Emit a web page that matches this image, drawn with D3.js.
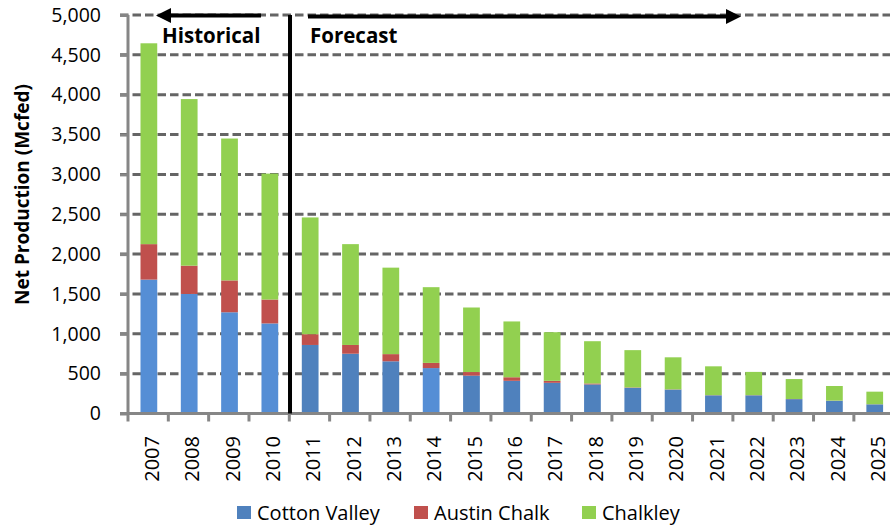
<!DOCTYPE html>
<html>
<head>
<meta charset="utf-8">
<script src="https://cdn.jsdelivr.net/npm/d3@7"></script>
<style>
  html, body { margin: 0; padding: 0; background: #fff; }
  svg { display: block; }
  text { font-family: "Open Sans", "Noto Sans", sans-serif; }
</style>
</head>
<body>
<script>
const years = ["2007","2008","2009","2010","2011","2012","2013","2014","2015","2016","2017","2018","2019","2020","2021","2022","2023","2024","2025"];
const cottonValley = [1680,1500,1270,1130,860,750,655,570,475,410,385,365,322,300,228,228,180,160,115];
const austinChalk  = [445,355,400,300,135,110,90,65,45,45,25,12,5,3,2,2,2,2,1];
const chalkley     = [2520,2090,1780,1580,1465,1265,1085,950,810,700,610,530,468,402,362,292,250,183,158];
const seriesNames = ["Cotton Valley","Austin Chalk","Chalkley"];
const yTicks = [0,500,1000,1500,2000,2500,3000,3500,4000,4500,5000];
const lightCottonYears = ["2007","2008","2009","2010","2014"];
const yLabel = "Net Production (Mcfed)";
const histLabel = "Historical";
const foreLabel = "Forecast";

const W = 890, H = 526;
const colors = { "Cotton Valley": "#4f81bd", "Austin Chalk": "#c0504d", "Chalkley": "#92d050" };
const lightCotton = "#558ed5";

const svg = d3.select("body").append("svg").attr("width", W).attr("height", H);
svg.append("rect").attr("width", W).attr("height", H).attr("fill", "#fff");

const x = d3.scaleBand().domain(years).range([128, 895.6]).paddingInner(0.585).paddingOuter(0.31);
const y = d3.scaleLinear().domain([0, 5000]).range([413.5, 15]);

// gridlines
svg.append("g").selectAll("line").data(yTicks.filter(d => d > 0)).join("line")
  .attr("x1", 120).attr("x2", W)
  .attr("y1", d => y(d)).attr("y2", d => y(d))
  .attr("stroke", "#656565").attr("stroke-width", 3).attr("stroke-dasharray", "8.5,4");

// stacked data
const rows = years.map((yr, i) => ({ year: yr, "Cotton Valley": cottonValley[i], "Austin Chalk": austinChalk[i], "Chalkley": chalkley[i] }));
const stack = d3.stack().keys(seriesNames)(rows);

svg.append("g").selectAll("g").data(stack).join("g")
  .each(function(s) {
    d3.select(this).selectAll("rect").data(s).join("rect")
      .attr("x", d => x(d.data.year))
      .attr("width", x.bandwidth())
      .attr("y", d => y(d[1]))
      .attr("height", d => Math.max(0, y(d[0]) - y(d[1])))
      .attr("fill", d => s.key === "Cotton Valley" && lightCottonYears.includes(d.data.year) ? lightCotton : colors[s.key]);
  });

// Y axis
const yAxis = d3.axisLeft(y).tickValues(yTicks).tickSize(8).tickPadding(19)
  .tickFormat(d3.format(","));
const gy = svg.append("g").attr("transform", "translate(128,0)").call(yAxis);
gy.select(".domain").attr("stroke", "#868686").attr("stroke-width", 3).attr("d", `M0,${y(5000)}V${y(0)}`);
gy.selectAll(".tick line").attr("stroke", "#868686").attr("stroke-width", 3);
gy.selectAll(".tick text").attr("font-size", 19.5).attr("fill", "#000").attr("font-family", "Open Sans");

// X axis baseline and boundary ticks
const step = x.step();
const x0 = 128;
svg.append("line").attr("x1", 120).attr("x2", W).attr("y1", y(0)).attr("y2", y(0))
  .attr("stroke", "#868686").attr("stroke-width", 3);
svg.append("g").selectAll("line").data(d3.range(years.length + 1)).join("line")
  .attr("x1", i => x0 + i * step).attr("x2", i => x0 + i * step)
  .attr("y1", y(0)).attr("y2", y(0) + 8)
  .attr("stroke", "#868686").attr("stroke-width", 3);

// X labels rotated
svg.append("g").selectAll("text").data(years).join("text")
  .attr("transform", d => `translate(${x(d) + x.bandwidth() / 2 + 3},${436}) rotate(-90)`)
  .attr("text-anchor", "end").attr("dy", "0.36em")
  .attr("font-size", 20).attr("fill", "#000")
  .text(d => d);

// Y title
svg.append("text")
  .attr("transform", `translate(22,${194.5}) rotate(-90)`)
  .attr("text-anchor", "middle").attr("dy", "0.36em")
  .attr("font-size", 19).attr("font-weight", "bold").attr("fill", "#000")
  .text(yLabel);

// Divider line
const divX = (x("2010") + x.bandwidth() + x("2011")) / 2;
svg.append("line").attr("x1", divX).attr("x2", divX).attr("y1", y(5000)).attr("y2", y(0))
  .attr("stroke", "#000").attr("stroke-width", 4);

function arrow(xs, xe, yy) {
  const dir = Math.sign(xe - xs);
  const headLen = 15, headH = 15;
  svg.append("line").attr("x1", xs).attr("x2", xe - dir * headLen + dir).attr("y1", yy).attr("y2", yy)
    .attr("stroke", "#000").attr("stroke-width", 4);
  svg.append("path")
    .attr("d", `M${xe},${yy}L${xe - dir * headLen},${yy - headH / 2}L${xe - dir * headLen},${yy + headH / 2}Z`)
    .attr("fill", "#000");
}
arrow(261, 156, 15.5);
arrow(308, 741, 16.5);

svg.append("text").attr("x", 162).attr("y", 43).attr("font-family", "Liberation Sans, Arial, sans-serif")
  .attr("font-size", 20.5).attr("font-weight", "bold").attr("fill", "#000").text(histLabel);
svg.append("text").attr("x", 310).attr("y", 43).attr("font-family", "Liberation Sans, Arial, sans-serif")
  .attr("font-size", 20.5).attr("font-weight", "bold").attr("fill", "#000").text(foreLabel);

// Legend
const legendPos = [237, 414, 582];
const lg = svg.append("g").selectAll("g").data(seriesNames).join("g")
  .attr("transform", (d, i) => `translate(${legendPos[i]},506)`);
lg.append("rect").attr("width", 14).attr("height", 13).attr("fill", d => colors[d]);
lg.append("text").attr("x", 20).attr("y", 6.5).attr("dy", "0.36em")
  .attr("font-size", 20).attr("fill", "#000").text(d => d);
</script>
</body>
</html>
